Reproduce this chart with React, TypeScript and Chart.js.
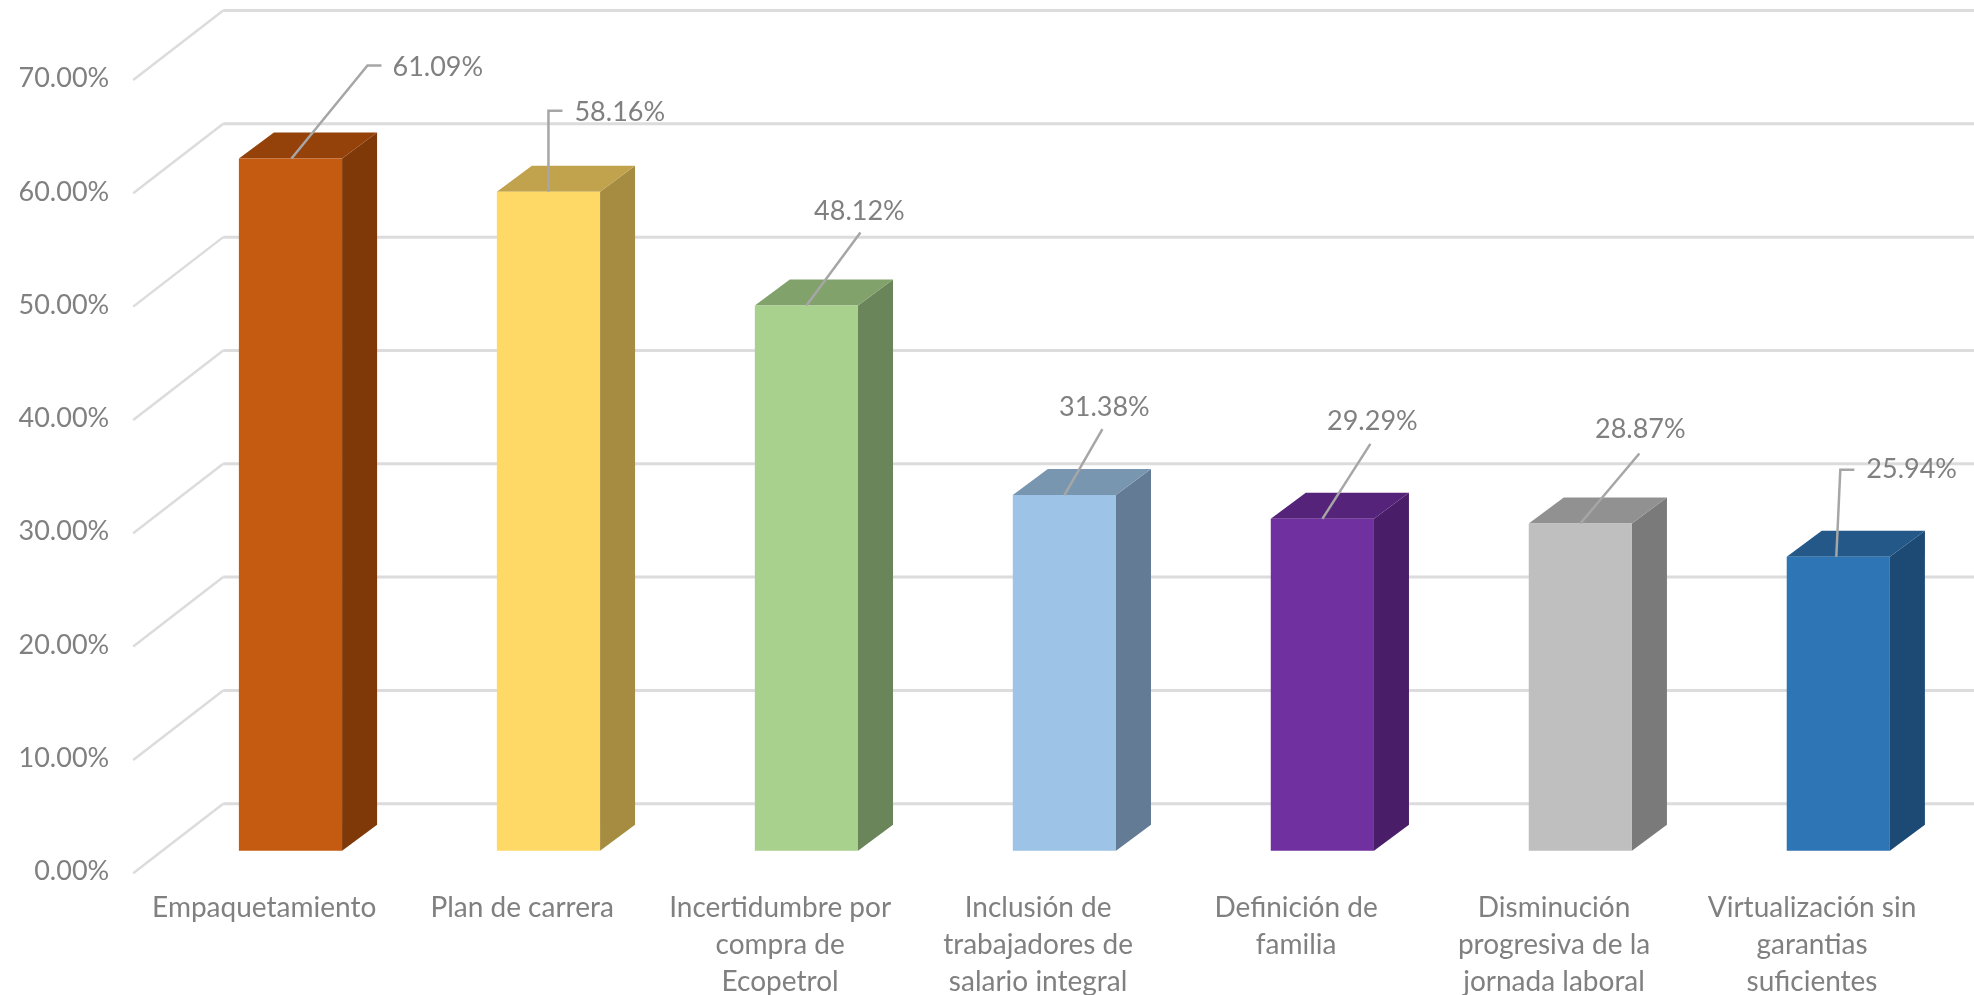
import React, { useEffect, useRef } from "react";
import { Chart, registerables } from "chart.js";

Chart.register(...registerables);

const categories: string[][] = [
  ["Empaquetamiento"],
  ["Plan de carrera"],
  ["Incertidumbre por", "compra de", "Ecopetrol"],
  ["Inclusión de", "trabajadores de", "salario integral"],
  ["Definición de", "familia"],
  ["Disminución", "progresiva de la", "jornada laboral"],
  ["Virtualización sin", "garantias", "suficientes"],
];
const values = [61.09, 58.16, 48.12, 31.38, 29.29, 28.87, 25.94];
const yTicks = [0, 10, 20, 30, 40, 50, 60, 70];

const frontColors = ["#C55A11", "#FFD966", "#A9D18E", "#9DC3E6", "#7030A0", "#BFBFBF", "#2E75B6"];
const topColors = ["#95420A", "#C1A34D", "#82A26C", "#7996B1", "#55237A", "#919191", "#235889"];
const sideColors = ["#7F3808", "#A58C41", "#6B855A", "#637B95", "#491D68", "#7A7A7A", "#1C4A75"];

// Leader-line layout, relative to the centre of each bar's top edge.
type Leader = { pts: [number, number][]; text: [number, number]; align: CanvasTextAlign };
const leaders: Leader[] = [
  { pts: [[1, 0], [77, -93], [91, -93]], text: [102, -91], align: "left" },
  { pts: [[0, 0], [0, -81], [14, -81]], text: [26, -79], align: "left" },
  { pts: [[0, 0], [54, -73]], text: [53, -94], align: "center" },
  { pts: [[0, 0], [38, -66]], text: [40, -88], align: "center" },
  { pts: [[0, 0], [48, -75]], text: [50, -98], align: "center" },
  { pts: [[0, 0], [59, -70]], text: [60, -94], align: "center" },
  { pts: [[-2, 0], [2, -87], [16, -87]], text: [28, -87], align: "left" },
];

const FONT = "Lato";
const TEXT = "#808080";
const GRID = "#dcdcdc";
const WALL = { dx: 88, dy: -68, startInset: 2 };
const BAR_SHIFT = { dx: 26.3, dy: -21 };
const DEPTH = { dx: 35, dy: -26 };

const walls3d = {
  id: "walls3d",
  beforeDatasetsDraw(chart: any) {
    const { ctx, scales, width } = chart;
    const y = scales.y;
    ctx.save();
    ctx.strokeStyle = GRID;
    ctx.lineCap = "butt";
    y.ticks.forEach((t: any) => {
      const py = y.getPixelForValue(t.value);
      const bx = y.right + WALL.dx;
      ctx.lineWidth = 2.5;
      ctx.beginPath();
      ctx.moveTo(y.right - WALL.startInset, py + 1.5);
      ctx.lineTo(bx, py + WALL.dy);
      ctx.stroke();
      ctx.lineWidth = 3;
      ctx.beginPath();
      ctx.moveTo(bx, py + WALL.dy);
      ctx.lineTo(width, py + WALL.dy);
      ctx.stroke();
    });
    ctx.restore();
  },
};

const bars3d = {
  id: "bars3d",
  beforeDatasetDraw(chart: any, args: any) {
    const { ctx } = chart;
    ctx.save();
    ctx.translate(BAR_SHIFT.dx, BAR_SHIFT.dy);
    args.meta.data.forEach((el: any, i: number) => {
      const { x, y, base, width } = el.getProps(["x", "y", "base", "width"], true);
      const r = x + width / 2;
      const l = x - width / 2;
      ctx.fillStyle = sideColors[i];
      ctx.beginPath();
      ctx.moveTo(r, y);
      ctx.lineTo(r + DEPTH.dx, y + DEPTH.dy);
      ctx.lineTo(r + DEPTH.dx, base + DEPTH.dy);
      ctx.lineTo(r, base);
      ctx.closePath();
      ctx.fill();
      ctx.fillStyle = topColors[i];
      ctx.beginPath();
      ctx.moveTo(l, y);
      ctx.lineTo(l + DEPTH.dx, y + DEPTH.dy);
      ctx.lineTo(r + DEPTH.dx, y + DEPTH.dy);
      ctx.lineTo(r, y);
      ctx.closePath();
      ctx.fill();
    });
  },
  afterDatasetDraw(chart: any) {
    chart.ctx.restore();
  },
  afterDatasetsDraw(chart: any) {
    const { ctx } = chart;
    const meta = chart.getDatasetMeta(0);
    ctx.save();
    meta.data.forEach((el: any, i: number) => {
      const { x, y } = el.getProps(["x", "y"], true);
      const ox = x + BAR_SHIFT.dx;
      const oy = y + BAR_SHIFT.dy;
      const L = leaders[i];
      ctx.strokeStyle = "#a6a6a6";
      ctx.lineWidth = 2.5;
      ctx.lineJoin = "miter";
      ctx.beginPath();
      L.pts.forEach(([dx, dy], k) => {
        if (k === 0) ctx.moveTo(ox + dx, oy + dy);
        else ctx.lineTo(ox + dx, oy + dy);
      });
      ctx.stroke();
      ctx.fillStyle = TEXT;
      ctx.font = `27px ${FONT}`;
      ctx.textAlign = L.align;
      ctx.textBaseline = "middle";
      ctx.fillText(values[i].toFixed(2) + "%", ox + L.text[0], oy + L.text[1]);
    });
    ctx.restore();
  },
};

export default function App() {
  const ref = useRef<HTMLCanvasElement>(null);
  useEffect(() => {
    document.body.style.margin = "0";
    document.body.style.background = "#fff";
    const chart = new Chart(ref.current!, {
      type: "bar",
      data: {
        labels: categories,
        datasets: [
          {
            data: values,
            backgroundColor: frontColors,
            barPercentage: 0.4,
            categoryPercentage: 1,
            borderWidth: 0,
            clip: false,
          } as any,
        ],
      },
      options: {
        animation: false,
        responsive: false,
        devicePixelRatio: 1,
        layout: { padding: { top: 78.5, right: 33, left: 0, bottom: 0 } },
        plugins: { legend: { display: false }, tooltip: { enabled: false }, title: { display: false } },
        scales: {
          x: {
            grid: { display: false },
            border: { display: false },
            afterFit(s: any) {
              s.height = 123.3;
            },
            ticks: {
              autoSkip: false,
              maxRotation: 0,
              minRotation: 0,
              padding: 10.5,
              color: TEXT,
              font: { family: FONT, size: 28, lineHeight: 1.304 },
            },
          },
          y: {
            min: 0,
            max: 70,
            grid: { display: false },
            border: { display: false },
            afterFit(s: any) {
              s.width = 135.2;
            },
            afterBuildTicks(s: any) {
              s.ticks = yTicks.map((value) => ({ value }));
            },
            ticks: {
              padding: 18,
              color: TEXT,
              font: { family: FONT, size: 27 },
              callback: (v: any) => Number(v).toFixed(2) + "%",
            },
          },
        },
      },
      plugins: [walls3d, bars3d],
    } as any);
    return () => chart.destroy();
  }, []);
  return <canvas ref={ref} width={1974} height={995} style={{ display: "block", width: 1974, height: 995, filter: "blur(0.6px)" }} />;
}
